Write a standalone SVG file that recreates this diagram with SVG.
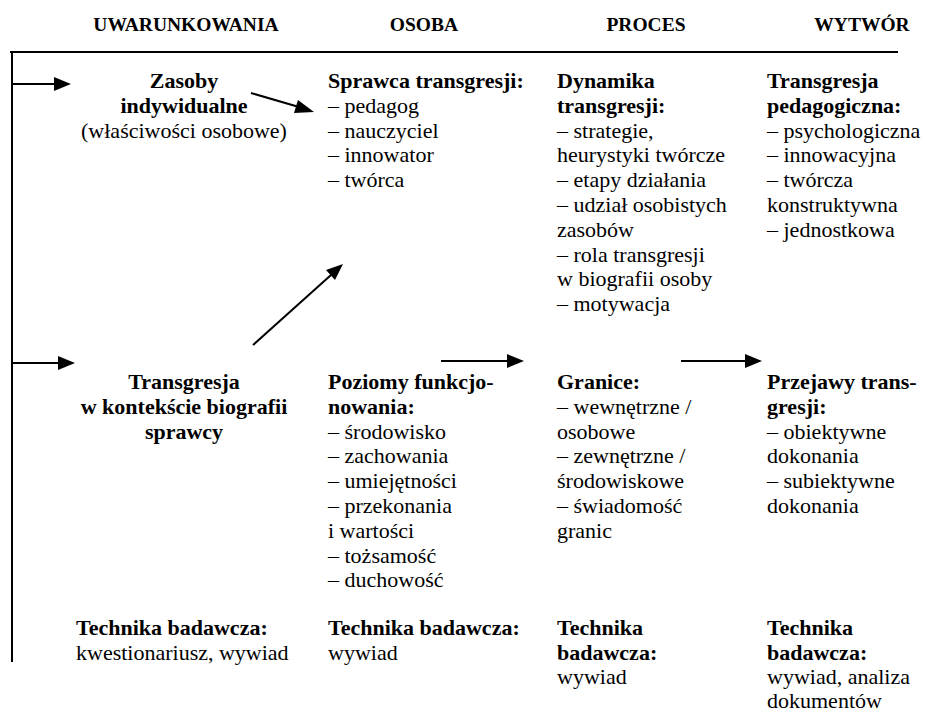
<svg xmlns="http://www.w3.org/2000/svg" width="925" height="714" viewBox="0 0 925 714">
<style>
text{font-family:"Liberation Serif","Times New Roman",serif;font-size:22px;fill:#000}
.h{font-size:19.5px;font-weight:bold;text-anchor:middle}
.b{font-weight:bold}
.c{text-anchor:middle}
.ln{stroke:#000;stroke-width:2;fill:none}
.hd{fill:#000}
</style>
<rect width="925" height="714" fill="#fff"/>
<g id="headers">
<text class="h" x="186" y="31">UWARUNKOWANIA</text>
<text class="h" x="424" y="31">OSOBA</text>
<text class="h" x="646" y="31">PROCES</text>
<text class="h" x="862" y="31">WYTWÓR</text>
</g>
<g id="connectors">
<path class="ln" d="M10,52 H898 M12,52 V662"/>
<path class="ln" d="M12,84 H56"/>
<path class="hd" d="M54,77 L71,84 L54,91 z"/>
<path class="ln" d="M12,363 H60"/>
<path class="hd" d="M58,356 L75,363 L58,370 z"/>
<path class="ln" d="M251,93 L299,107"/>
<path class="hd" d="M298,100 L314,112 L294,113 z"/>
<path class="ln" d="M253,345 L331,275"/>
<path class="hd" d="M326,270 L343,264 L335,280 z"/>
<path class="ln" d="M441,361 H508"/>
<path class="hd" d="M507,354 L524,361 L507,368 z"/>
<path class="ln" d="M681,361 H746"/>
<path class="hd" d="M745,354 L762,361 L745,368 z"/>
</g>
<g id="zasoby">
<text class="b c" x="184" y="88">Zasoby</text>
<text class="b c" x="184" y="112.8">indywidualne</text>
<text class="c" x="184" y="137.6">(właściwości osobowe)</text>
</g>
<g id="sprawca">
<text class="b" x="328" y="88">Sprawca transgresji:</text>
<text x="328" y="112.8">– pedagog</text>
<text x="328" y="137.6">– nauczyciel</text>
<text x="328" y="162.4">– innowator</text>
<text x="328" y="187.2">– twórca</text>
</g>
<g id="dynamika">
<text class="b" x="557" y="88">Dynamika</text>
<text class="b" x="557" y="112.8">transgresji:</text>
<text x="557" y="137.6">– strategie,</text>
<text x="557" y="162.4">heurystyki twórcze</text>
<text x="557" y="187.2">– etapy działania</text>
<text x="557" y="212">– udział osobistych</text>
<text x="557" y="236.8">zasobów</text>
<text x="557" y="261.6">– rola transgresji</text>
<text x="557" y="286.4">w biografii osoby</text>
<text x="557" y="311.2">– motywacja</text>
</g>
<g id="wytwor">
<text class="b" x="767" y="88">Transgresja</text>
<text class="b" x="767" y="112.8">pedagogiczna:</text>
<text x="767" y="137.6">– psychologiczna</text>
<text x="767" y="162.4">– innowacyjna</text>
<text x="767" y="187.2">– twórcza</text>
<text x="767" y="212">konstruktywna</text>
<text x="767" y="236.8">– jednostkowa</text>
</g>
<g id="transgresja-biografia">
<text class="b c" x="184" y="389">Transgresja</text>
<text class="b c" x="184" y="413.8">w kontekście biografii</text>
<text class="b c" x="184" y="438.6">sprawcy</text>
</g>
<g id="poziomy">
<text class="b" x="328" y="389">Poziomy funkcjo-</text>
<text class="b" x="328" y="413.8">nowania:</text>
<text x="328" y="438.6">– środowisko</text>
<text x="328" y="463.4">– zachowania</text>
<text x="328" y="488.2">– umiejętności</text>
<text x="328" y="513">– przekonania</text>
<text x="328" y="537.8">i wartości</text>
<text x="328" y="562.6">– tożsamość</text>
<text x="328" y="587.4">– duchowość</text>
</g>
<g id="granice">
<text class="b" x="557" y="389">Granice:</text>
<text x="557" y="413.8">– wewnętrzne /</text>
<text x="557" y="438.6">osobowe</text>
<text x="557" y="463.4">– zewnętrzne /</text>
<text x="557" y="488.2">środowiskowe</text>
<text x="557" y="513">– świadomość</text>
<text x="557" y="537.8">granic</text>
</g>
<g id="przejawy">
<text class="b" x="767" y="389">Przejawy trans-</text>
<text class="b" x="767" y="413.8">gresji:</text>
<text x="767" y="438.6">– obiektywne</text>
<text x="767" y="463.4">dokonania</text>
<text x="767" y="488.2">– subiektywne</text>
<text x="767" y="513">dokonania</text>
</g>
<g id="technika1">
<text class="b" x="76" y="635">Technika badawcza:</text>
<text x="76" y="659.5">kwestionariusz, wywiad</text>
</g>
<g id="technika2">
<text class="b" x="328" y="635">Technika badawcza:</text>
<text x="328" y="659.5">wywiad</text>
</g>
<g id="technika3">
<text class="b" x="557" y="635">Technika</text>
<text class="b" x="557" y="659.5">badawcza:</text>
<text x="557" y="684">wywiad</text>
</g>
<g id="technika4">
<text class="b" x="767" y="635">Technika</text>
<text class="b" x="767" y="659.5">badawcza:</text>
<text x="767" y="684">wywiad, analiza</text>
<text x="767" y="708">dokumentów</text>
</g>
</svg>
